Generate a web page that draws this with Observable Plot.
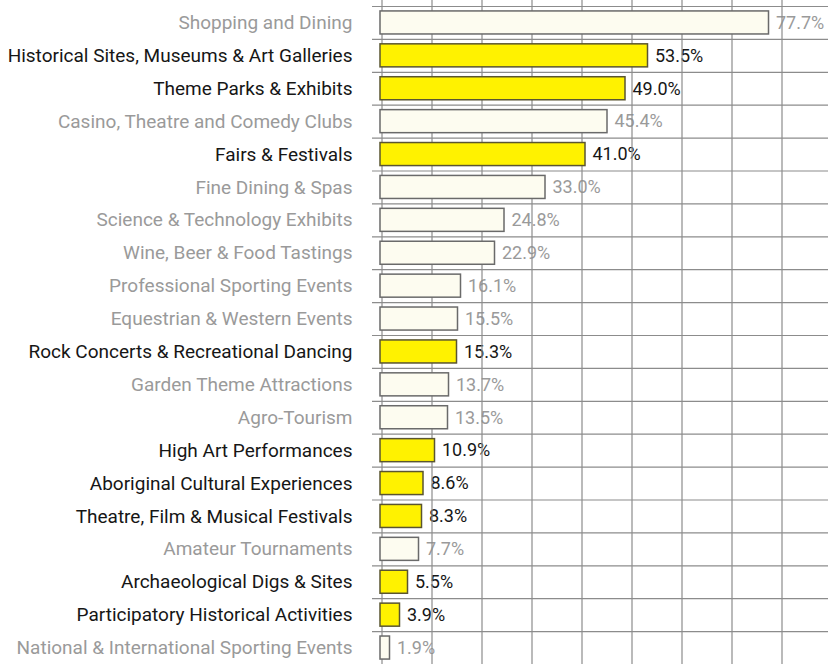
<!DOCTYPE html>
<html>
<head>
<meta charset="utf-8">
<script src="https://cdn.jsdelivr.net/npm/d3@7"></script>
<script src="https://cdn.jsdelivr.net/npm/@observablehq/plot@0.6"></script>
<style>
  html, body { margin: 0; padding: 0; background: #fff; }
  #chart svg { display: block; }
</style>
</head>
<body>
<div id="chart"></div>
<script>
const categories = [
  "Shopping and Dining",
  "Historical Sites, Museums & Art Galleries",
  "Theme Parks & Exhibits",
  "Casino, Theatre and Comedy Clubs",
  "Fairs & Festivals",
  "Fine Dining & Spas",
  "Science & Technology Exhibits",
  "Wine, Beer & Food Tastings",
  "Professional Sporting Events",
  "Equestrian & Western Events",
  "Rock Concerts & Recreational Dancing",
  "Garden Theme Attractions",
  "Agro-Tourism",
  "High Art Performances",
  "Aboriginal Cultural Experiences",
  "Theatre, Film & Musical Festivals",
  "Amateur Tournaments",
  "Archaeological Digs & Sites",
  "Participatory Historical Activities",
  "National & International Sporting Events"
];
const values = [77.7, 53.5, 49.0, 45.4, 41.0, 33.0, 24.8, 22.9, 16.1, 15.5, 15.3, 13.7, 13.5, 10.9, 8.6, 8.3, 7.7, 5.5, 3.9, 1.9];
const highlighted = [false, true, true, false, true, false, false, false, false, false, true, false, false, true, true, true, false, true, true, false];
const gridTicks = [0, 10, 20, 30, 40, 50, 60, 70, 80];

const data = categories.map((c, i) => ({category: c, value: values[i], hi: highlighted[i]}));

const W = 828, H = 664, mTop = 6, mBottom = 0;
const step = (H - mTop - mBottom) / categories.length;

const chart = Plot.plot({
  width: W,
  height: H,
  marginLeft: 380,
  marginRight: 0,
  marginTop: mTop,
  marginBottom: mBottom,
  style: {fontFamily: "Roboto, 'Liberation Sans', sans-serif", background: "#fff"},
  x: {domain: [0, 89.6], axis: null},
  y: {domain: categories, paddingInner: 0.3, paddingOuter: 0.15, round: false, axis: null},
  marks: [
    // category labels
    Plot.text(data, {
      x: 0, y: "category", text: "category", dx: -28, textAnchor: "end",
      fill: d => d.hi ? "#161616" : "#9a9a9a",
      fontSize: 19, style: "letter-spacing:0.75px"
    }),
    // value labels
    Plot.text(data, {
      x: "value", y: "category", text: d => d.value.toFixed(1) + "%",
      dx: 7, textAnchor: "start",
      fill: d => d.hi ? "#161616" : "#9a9a9a",
      fontSize: 18, fontWeight: d => d.hi ? 500 : 400
    }),
    // horizontal grid lines at band tops
    Plot.ruleY(categories, {y: d => d, dy: -step / 2, x1: -1.6, x2: 89.6, stroke: "#8c8c8c", strokeWidth: 1.2}),
    // vertical grid lines
    Plot.ruleX(gridTicks, {x: d => d, dx: 1.5, insetTop: -6, stroke: "#8c8c8c", strokeWidth: 1.2}),
    // bars
    Plot.barX(data, {
      x: "value", y: "category",
      fill: d => d.hi ? "#fff200" : "#fdfcf0",
      stroke: d => d.hi ? "#5a5530" : "#6a6a6a",
      strokeWidth: 1.5
    })
  ]
});

document.getElementById("chart").appendChild(chart);
</script>
</body>
</html>
